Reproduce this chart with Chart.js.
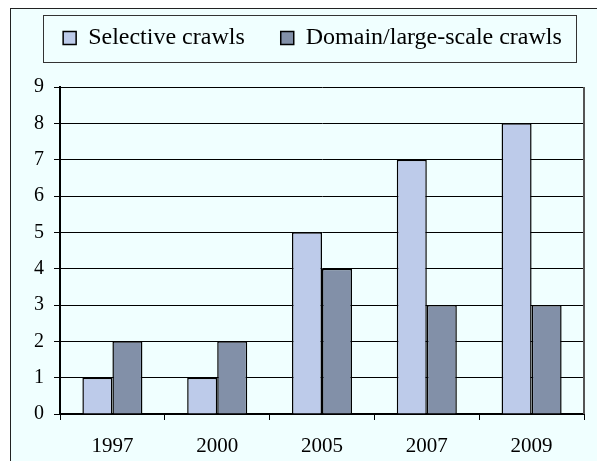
<!DOCTYPE html>
<html>
<head>
<meta charset="utf-8">
<script src="https://cdn.jsdelivr.net/npm/chart.js@4/dist/chart.umd.min.js"></script>
<style>
  html, body { margin: 0; padding: 0; background: #fff; }
  #frame {
    position: absolute; left: 10px; top: 8px;
    width: 586px; height: 452px;
    border-left: 1px solid #222; border-top: 1px solid #222;
    background: #F0FFFF;
  }
</style>
</head>
<body>
<div id="frame"><canvas id="myChart" width="586" height="452"></canvas></div>
<script>
const years = ['1997', '2000', '2005', '2007', '2009'];
const selective = [1, 1, 5, 7, 8];
const domain = [2, 2, 4, 3, 3];
const yTicks = [0, 1, 2, 3, 4, 5, 6, 7, 8, 9];

const serif = "'Liberation Serif', 'DejaVu Serif', serif";
const legendPad = 36;

// legend sits in a bordered box, placed a bit off-centre like the original
const legendBox = {
  id: 'legendBox',
  beforeLayout(chart) {
    const lg = chart.legend;
    if (lg && !lg._patched) {
      const fit = lg.fit;
      lg.fit = function () { fit.call(this); this.height = 78; };
      lg._patched = true;
    }
  },
  afterLayout(chart) {
    const lg = chart.legend;
    lg.left += 15; lg.right += 15;
    lg.top = 29 - 12 - legendPad;
    lg.bottom = lg.top + 78;
  },
  afterDraw(chart) {
    const lg = chart.legend;
    const hb = lg.legendHitBoxes;
    if (!hb || !hb.length) return;
    const first = hb[0], last = hb[hb.length - 1];
    const ctx = chart.ctx;
    const cy = first.top + first.height / 2;
    const x0 = Math.round(first.left - 20), x1 = Math.round(last.left + last.width + 14);
    const y0 = Math.round(cy - 23);
    ctx.save();
    ctx.strokeStyle = '#333';
    ctx.lineWidth = 1;
    ctx.strokeRect(x0 + 0.5, y0 + 0.5, x1 - x0, 47);
    // right edge of plot
    const a = chart.chartArea;
    ctx.strokeStyle = '#555';
    ctx.lineWidth = 2;
    ctx.beginPath();
    ctx.moveTo(a.right, a.top);
    ctx.lineTo(a.right, a.bottom);
    ctx.stroke();
    ctx.restore();
  }
};

const data = {
  labels: years,
  datasets: [{
    label: 'Selective crawls',
    data: selective,
    backgroundColor: '#BDCBEA',
    borderColor: '#000',
    borderWidth: 1.5
  },
  {
    label: 'Domain/large-scale crawls',
    data: domain,
    backgroundColor: '#8290A8',
    borderColor: '#000',
    borderWidth: 1.5
  }]
};

const config = {
  type: 'bar',
  data,
  options: {
    responsive: false,
    animation: false,
    categoryPercentage: 0.573,
    barPercentage: 1,
    layout: { padding: { left: 0, right: 13, top: 0, bottom: 0 } },
    plugins: {
      tooltip: { enabled: false },
      legend: {
        position: 'top',
        labels: {
          font: { family: serif, size: 24 },
          color: '#000',
          boxWidth: 13,
          boxHeight: 13,
          padding: legendPad
        }
      }
    },
    scales: {
      x: {
        grid: {
          offset: true,
          drawOnChartArea: false,
          drawTicks: true,
          tickLength: 6,
          color: '#000',
          lineWidth: 1
        },
        border: { color: '#000', width: 2 },
        ticks: {
          font: { family: serif, size: 21 },
          color: '#000',
          padding: 14
        },
        afterFit(scale) { scale.height = 47; }
      },
      y: {
        min: 0,
        max: 9,
        afterBuildTicks(scale) { scale.ticks = yTicks.map(v => ({ value: v })); },
        grid: {
          color: '#000',
          lineWidth: 1,
          tickLength: 6
        },
        border: { color: '#000', width: 2 },
        ticks: {
          font: { family: serif, size: 20 },
          color: '#000',
          padding: 10
        },
        afterFit(scale) { scale.width = 49; }
      }
    }
  },
  plugins: [legendBox]
};

const myChart = new Chart(document.getElementById('myChart'), config);
</script>
</body>
</html>
